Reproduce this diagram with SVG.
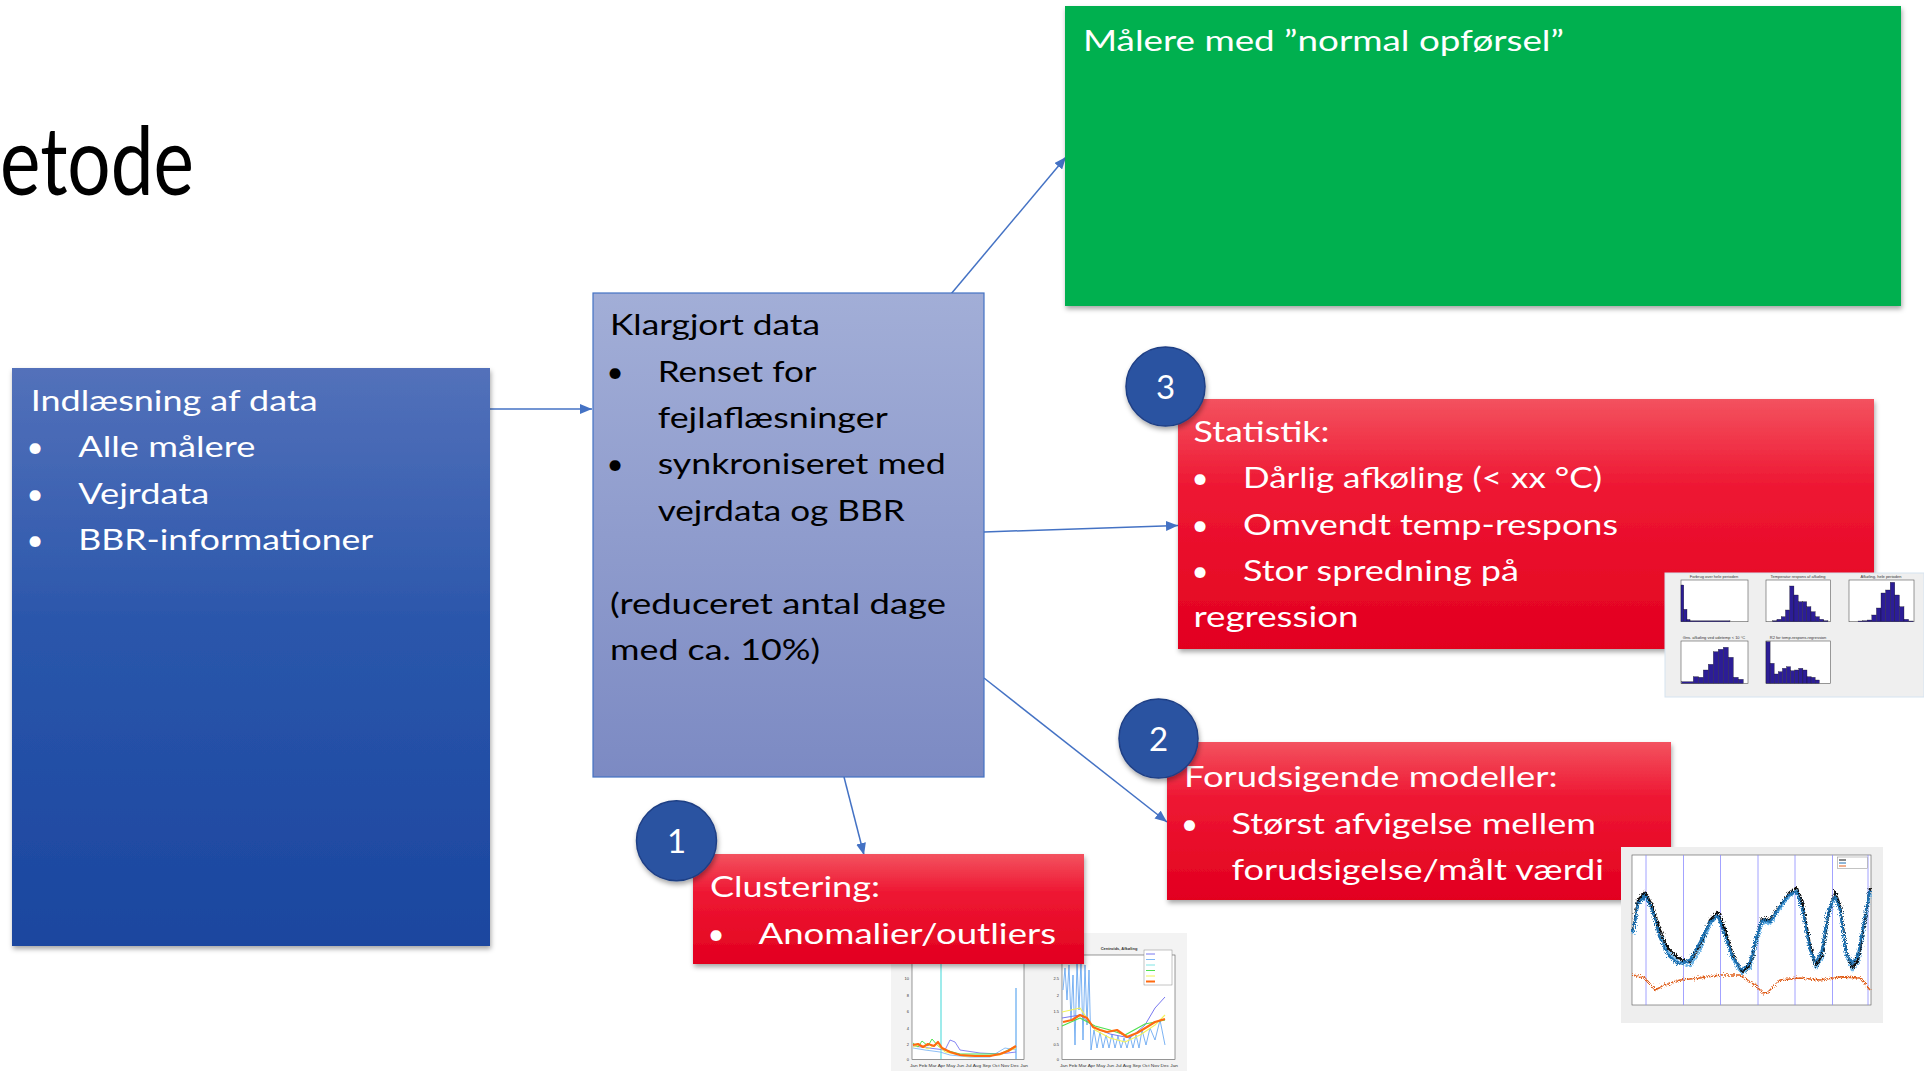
<svg xmlns="http://www.w3.org/2000/svg" width="1924" height="1071" viewBox="0 0 1924 1071">
<style>
.t{font-family:Lato,'Open Sans','Liberation Sans',sans-serif;font-size:29.5px}
.w{fill:#fff}.k{fill:#000}
.b{text-anchor:middle}
.num{font-family:Lato,'Open Sans','Liberation Sans',sans-serif;font-size:33px;fill:#fff;text-anchor:middle}
.conn{stroke:#4472C4;stroke-width:1.5;fill:none;marker-end:url(#arr)}
.circ{fill:#2C53A1;stroke:#1F3F85;stroke-width:1.5}
.ax{fill:#fff;stroke:#555;stroke-width:0.6}
.bar{fill:#2C1D96;stroke:#111;stroke-width:0.3}
.tiny{font-family:'Liberation Sans',sans-serif;font-size:4px;fill:#333}
.ln{fill:none;stroke-linejoin:round}
</style>
<defs>
<marker id="arr" markerUnits="userSpaceOnUse" markerWidth="13" markerHeight="10" refX="12" refY="5" orient="auto">
<path d="M0,0 L12,5 L0,10 z" fill="#4472C4"/>
</marker>
<linearGradient id="redg" x1="0" y1="0" x2="0" y2="1">
<stop offset="0" stop-color="#F3525F"/><stop offset="0.35" stop-color="#EE1733"/><stop offset="1" stop-color="#E2001F"/>
</linearGradient>
<linearGradient id="blueg" x1="0" y1="0" x2="0" y2="1">
<stop offset="0" stop-color="#5371BA"/><stop offset="0.45" stop-color="#2A56AB"/><stop offset="1" stop-color="#1B469F"/>
</linearGradient>
<linearGradient id="lavg" x1="0" y1="0" x2="0" y2="1">
<stop offset="0" stop-color="#A2AED7"/><stop offset="1" stop-color="#7C8AC3"/>
</linearGradient>
<filter id="sh" x="-5%" y="-5%" width="115%" height="125%">
<feDropShadow dx="1" dy="3" stdDeviation="2.5" flood-color="#000" flood-opacity="0.35"/>
</filter>
<filter id="jag" x="-5%" y="-30%" width="110%" height="160%">
<feTurbulence type="fractalNoise" baseFrequency="0.9" numOctaves="1" seed="3" result="n"/>
<feDisplacementMap in="SourceGraphic" in2="n" scale="7" xChannelSelector="R" yChannelSelector="G"/>
</filter>
</defs>
<rect width="1924" height="1071" fill="#fff"/>

<g id="title">
<text x="0" y="195" class="k" style="font-family:Lato,'Open Sans','Liberation Sans',sans-serif;font-size:95px;font-weight:400" textLength="194" lengthAdjust="spacingAndGlyphs">etode</text>
</g>

<g id="connectors">
<path class="conn" d="M490,409 L592,409"/>
<path class="conn" d="M951,294 L1066,157"/>
<path class="conn" d="M984,532 L1178,525.5"/>
<path class="conn" d="M984,678 L1167,822"/>
<path class="conn" d="M844,777 L864,855"/>
</g>

<g id="node-indlaesning">
<rect x="12" y="368" width="478" height="578" fill="url(#blueg)" filter="url(#sh)"/>
<text class="t w" x="30.7" y="410.7" textLength="287" lengthAdjust="spacingAndGlyphs">Indlæsning af data</text>
<text class="t w b" x="35" y="457.3">•</text>
<text class="t w" x="78.3" y="457.3" textLength="177" lengthAdjust="spacingAndGlyphs">Alle målere</text>
<text class="t w b" x="35" y="503.7">•</text>
<text class="t w" x="78.3" y="503.7" textLength="131" lengthAdjust="spacingAndGlyphs">Vejrdata</text>
<text class="t w b" x="35" y="550.1">•</text>
<text class="t w" x="78.3" y="550.1" textLength="295" lengthAdjust="spacingAndGlyphs">BBR-informationer</text>
</g>

<g id="node-klargjort">
<rect x="593" y="293" width="391" height="484" fill="url(#lavg)" stroke="#4472C4" stroke-width="1.2"/>
<text class="t k" x="610" y="335" textLength="210" lengthAdjust="spacingAndGlyphs">Klargjort data</text>
<text class="t k b" x="615" y="381.5">•</text>
<text class="t k" x="657.7" y="381.5" textLength="159" lengthAdjust="spacingAndGlyphs">Renset for</text>
<text class="t k" x="657.7" y="427.9" textLength="230" lengthAdjust="spacingAndGlyphs">fejlaflæsninger</text>
<text class="t k b" x="615" y="474.3">•</text>
<text class="t k" x="657.7" y="474.3" textLength="288" lengthAdjust="spacingAndGlyphs">synkroniseret med</text>
<text class="t k" x="657.7" y="520.7" textLength="247" lengthAdjust="spacingAndGlyphs">vejrdata og BBR</text>
<text class="t k" x="610" y="613.5" textLength="336" lengthAdjust="spacingAndGlyphs">(reduceret antal dage</text>
<text class="t k" x="610" y="659.9" textLength="210" lengthAdjust="spacingAndGlyphs">med ca. 10%)</text>
</g>

<g id="node-normal">
<rect x="1065" y="6" width="836" height="300" fill="#00B050" filter="url(#sh)"/>
<text class="t w" x="1083" y="50.5" textLength="481" lengthAdjust="spacingAndGlyphs">Målere med ”normal opførsel”</text>
</g>

<g id="node-statistik">
<rect x="1178" y="399" width="696" height="250" fill="url(#redg)" filter="url(#sh)"/>
<text class="t w" x="1193.5" y="441.7" textLength="136" lengthAdjust="spacingAndGlyphs">Statistik:</text>
<text class="t w b" x="1200" y="488.1">•</text>
<text class="t w" x="1243" y="488.1" textLength="359" lengthAdjust="spacingAndGlyphs">Dårlig afkøling (&lt; xx °C)</text>
<text class="t w b" x="1200" y="534.5">•</text>
<text class="t w" x="1243" y="534.5" textLength="375" lengthAdjust="spacingAndGlyphs">Omvendt temp-respons</text>
<text class="t w b" x="1200" y="580.9">•</text>
<text class="t w" x="1243" y="580.9" textLength="276" lengthAdjust="spacingAndGlyphs">Stor spredning på</text>
<text class="t w" x="1193.5" y="627.3" textLength="165" lengthAdjust="spacingAndGlyphs">regression</text>
</g>

<g id="node-forudsigende">
<rect x="1167" y="742" width="504" height="158" fill="url(#redg)" filter="url(#sh)"/>
<text class="t w" x="1184" y="787.3" textLength="373.5" lengthAdjust="spacingAndGlyphs">Forudsigende modeller:</text>
<text class="t w b" x="1189.5" y="833.7">•</text>
<text class="t w" x="1231.5" y="833.7" textLength="364.5" lengthAdjust="spacingAndGlyphs">Størst afvigelse mellem</text>
<text class="t w" x="1231.5" y="880.1" textLength="372.5" lengthAdjust="spacingAndGlyphs">forudsigelse/målt værdi</text>
</g>

<g id="fig-clustering">
<rect x="891" y="933" width="296" height="140" fill="#F3F3F3"/>
<rect class="ax" x="912" y="945" width="112" height="114.3"/>
<rect class="ax" x="1062" y="955" width="113" height="104.3"/>
<text class="tiny" x="1119" y="950" text-anchor="middle" font-weight="bold">Centroids, Afkøling</text>
<g class="tiny" text-anchor="end">
<text x="909" y="979.5">10</text><text x="909" y="996.5">8</text><text x="909" y="1013">6</text><text x="909" y="1029.5">4</text><text x="909" y="1045.5">2</text><text x="909" y="1060.5">0</text>
<text x="1059" y="979.5">2.5</text><text x="1059" y="996.5">2</text><text x="1059" y="1013">1.5</text><text x="1059" y="1029.5">1</text><text x="1059" y="1045.5">0.5</text><text x="1059" y="1060.5">0</text>
</g>
<text class="tiny" x="910" y="1066.5" textLength="118" lengthAdjust="spacingAndGlyphs">Jan Feb Mar Apr May Jun Jul Aug Sep Oct Nov Dec Jan</text>
<text class="tiny" x="1060" y="1066.5" textLength="118" lengthAdjust="spacingAndGlyphs">Jan Feb Mar Apr May Jun Jul Aug Sep Oct Nov Dec Jan</text>
<path class="ln" stroke="#7FE5E5" stroke-width="1.5" d="M941,1059 L941,945"/>
<path class="ln" stroke="#5FA8F0" stroke-width="1.2" d="M1016,1059 L1016,988"/>
<polyline class="ln" stroke="#7FB8F5" stroke-width="0.9" points="913,1048 925,1050 940,1052 950,1055 970,1057 990,1057 1005,1048 1016,1050"/>
<polyline class="ln" stroke="#7878F0" stroke-width="0.9" points="913,1046 945,1050 950,1040 955,1042 960,1050 980,1053 1000,1054 1016,1052"/>
<polyline class="ln" stroke="#4FE04F" stroke-width="1" points="913,1043 918,1047 922,1041 928,1046 932,1039 938,1046 945,1050 960,1054 1000,1054 1016,1046"/>
<polyline class="ln" stroke="#F2F25A" stroke-width="1" points="913,1047 920,1045 928,1049 936,1044 945,1052 965,1056 1000,1055 1016,1048"/>
<polyline class="ln" stroke="#FF6A10" stroke-width="2.2" points="913,1045 918,1044 923,1047 928,1044 934,1046 938,1042 942,1048 950,1052 960,1055 975,1056 990,1056 1000,1054 1008,1051 1016,1046"/>
<polyline class="ln" stroke="#5AA0F0" stroke-width="0.8" points="1063,990 1065,968 1067,1000 1069,965 1071,1020 1073,975 1075,1045 1077,962 1079,1010 1081,960 1083,1040 1085,965 1087,1025 1089,970 1091,1050 1094,1030 1097,1048 1100,1032 1103,1048 1106,1035 1109,1048 1112,1034 1115,1048 1118,1036 1121,1048 1124,1038 1127,1048 1130,1036 1133,1048 1136,1035 1139,1048 1142,1030 1146,1045 1150,1028 1155,1040 1160,1020 1165,1045"/>
<polyline class="ln" stroke="#7878F0" stroke-width="1" points="1062,1018 1080,1015 1095,1028 1110,1034 1130,1038 1145,1025 1155,1008 1165,997"/>
<polyline class="ln" stroke="#F2F25A" stroke-width="1.2" points="1062,1012 1080,1008 1095,1030 1110,1038 1125,1042 1140,1035 1155,1025 1165,1015"/>
<polyline class="ln" stroke="#4FE04F" stroke-width="1.2" points="1062,1026 1080,1018 1095,1026 1110,1030 1125,1035 1145,1024 1165,1020"/>
<polyline class="ln" stroke="#FF6A10" stroke-width="2.2" points="1063,1022 1072,1020 1080,1015 1087,1018 1093,1027 1100,1030 1107,1032 1117,1030 1127,1037 1137,1033 1147,1027 1155,1022 1165,1019"/>
<rect x="1144" y="950" width="28" height="35" fill="#fff" stroke="#888" stroke-width="0.5"/>
<g stroke-width="1">
<line x1="1146" y1="954" x2="1155" y2="954" stroke="#7878F0"/>
<line x1="1146" y1="959.5" x2="1155" y2="959.5" stroke="#7FB8F5"/>
<line x1="1146" y1="965" x2="1155" y2="965" stroke="#7FE5E5"/>
<line x1="1146" y1="970.5" x2="1155" y2="970.5" stroke="#4FE04F"/>
<line x1="1146" y1="976" x2="1155" y2="976" stroke="#F2F25A"/>
<line x1="1146" y1="981.5" x2="1155" y2="981.5" stroke="#FF6A10" stroke-width="2"/>
</g>
</g>

<g id="node-clustering">
<rect x="693" y="854" width="391" height="110" fill="url(#redg)" filter="url(#sh)"/>
<text class="t w" x="710" y="897.3" textLength="170" lengthAdjust="spacingAndGlyphs">Clustering:</text>
<text class="t w b" x="716" y="943.7">•</text>
<text class="t w" x="758.5" y="943.7" textLength="297.5" lengthAdjust="spacingAndGlyphs">Anomalier/outliers</text>
</g>

<g id="fig-statistik">
<rect x="1665" y="573" width="259" height="124" fill="#EFEFEF" stroke="#D5E3F0" stroke-width="1"/>
<rect class="ax" x="1681" y="580" width="67" height="41.7"/>
<rect class="ax" x="1766" y="580" width="64.7" height="41.7"/>
<rect class="ax" x="1849" y="580" width="65" height="41.7"/>
<rect class="ax" x="1681" y="641" width="67" height="42.3"/>
<rect class="ax" x="1766" y="641" width="64.7" height="42.3"/>
<g class="tiny" text-anchor="middle">
<text x="1714" y="578">Forbrug over hele perioden</text>
<text x="1798" y="578">Temperatur respons af afkøling</text>
<text x="1881" y="578">Afkøling, hele perioden</text>
<text x="1714" y="639">Gns. afkøling ved udetemp &lt; 10 °C</text>
<text x="1798" y="639">R2 for temp-respons-regression</text>
</g>
<g class="bar">
<rect x="1681" y="585" width="2.8" height="36.7"/>
<rect x="1683.8" y="609.3" width="3.2" height="12.4"/>
<rect x="1687" y="619.5" width="3" height="2.2"/>
<rect x="1690" y="620.8" width="40" height="0.9"/>
<rect x="1772.7" y="620.7" width="4.25" height="1"/>
<rect x="1776.95" y="619.3" width="4.25" height="2.4"/>
<rect x="1781.2" y="616.7" width="4.25" height="5"/>
<rect x="1785.45" y="610" width="4.25" height="11.7"/>
<rect x="1789.7" y="586" width="4.25" height="35.7"/>
<rect x="1793.95" y="595" width="4.25" height="26.7"/>
<rect x="1798.2" y="601.7" width="4.25" height="20"/>
<rect x="1802.45" y="601.7" width="4.25" height="20"/>
<rect x="1806.7" y="606.7" width="4.25" height="15"/>
<rect x="1810.95" y="611.7" width="4.25" height="10"/>
<rect x="1815.2" y="616.7" width="4.25" height="5"/>
<rect x="1819.45" y="619.3" width="4.25" height="2.4"/>
<rect x="1823.7" y="620.7" width="4.25" height="1"/>
<rect x="1858" y="621" width="4.6" height="0.7"/>
<rect x="1862.6" y="620.7" width="4.6" height="1"/>
<rect x="1867.2" y="620" width="4.6" height="1.7"/>
<rect x="1871.8" y="615" width="4.6" height="6.7"/>
<rect x="1876.4" y="608" width="4.6" height="13.7"/>
<rect x="1881" y="593" width="4.6" height="28.7"/>
<rect x="1885.6" y="590" width="4.6" height="31.7"/>
<rect x="1890.2" y="582.3" width="4.6" height="39.4"/>
<rect x="1894.8" y="595" width="4.6" height="26.7"/>
<rect x="1899.4" y="606.7" width="4.6" height="15"/>
<rect x="1904" y="619.3" width="4.6" height="2.4"/>
<rect x="1908.6" y="621" width="4.6" height="0.7"/>
<rect x="1681.7" y="681.7" width="11.6" height="1.6"/>
<rect x="1693.3" y="676.7" width="5" height="6.6"/>
<rect x="1698.3" y="677.3" width="5" height="6"/>
<rect x="1703.3" y="670" width="5" height="13.3"/>
<rect x="1708.3" y="664.3" width="5" height="19"/>
<rect x="1713.3" y="651.7" width="5" height="31.6"/>
<rect x="1718.3" y="649.3" width="5" height="34"/>
<rect x="1723.3" y="647.3" width="5" height="36"/>
<rect x="1728.3" y="657.3" width="5" height="26"/>
<rect x="1733.3" y="677.3" width="5" height="6"/>
<rect x="1738.3" y="679.3" width="5" height="4"/>
<rect x="1766" y="641.7" width="4.1" height="41.6"/>
<rect x="1770.1" y="663.3" width="4.1" height="20"/>
<rect x="1774.2" y="674" width="4.1" height="9.3"/>
<rect x="1778.3" y="671.7" width="4.1" height="11.6"/>
<rect x="1782.4" y="668.3" width="4.1" height="15"/>
<rect x="1786.5" y="666.7" width="4.1" height="16.6"/>
<rect x="1790.6" y="670.7" width="4.1" height="12.6"/>
<rect x="1794.7" y="670" width="4.1" height="13.3"/>
<rect x="1798.8" y="668.3" width="4.1" height="15"/>
<rect x="1802.9" y="670" width="4.1" height="13.3"/>
<rect x="1807" y="676.7" width="4.1" height="6.6"/>
<rect x="1811.1" y="677.3" width="4.1" height="6"/>
<rect x="1815.2" y="680" width="4.1" height="3.3"/>
</g>
</g>

<g id="fig-forudsigende">
<rect x="1621" y="847" width="262" height="176" fill="#EEEEEE"/>
<rect class="ax" x="1632" y="855" width="239" height="150"/>
<g stroke="#8C8CFF" stroke-width="0.8">
<line x1="1646" y1="855" x2="1646" y2="1005"/>
<line x1="1683.5" y1="855" x2="1683.5" y2="1005"/>
<line x1="1720.5" y1="855" x2="1720.5" y2="1005"/>
<line x1="1758" y1="855" x2="1758" y2="1005"/>
<line x1="1795" y1="855" x2="1795" y2="1005"/>
<line x1="1832.5" y1="855" x2="1832.5" y2="1005"/>
<line x1="1868" y1="855" x2="1868" y2="1005"/>
</g>
<g filter="url(#jag)">
<polyline class="ln" stroke="#6FB6E8" stroke-width="2.6" points="1633,934 1638,903 1645,896 1652,908 1660,935 1668,952 1678,962 1690,966 1700,950 1710,925 1718,915 1725,935 1733,960 1742,974 1750,968 1756,945 1762,922 1770,924 1780,908 1790,896 1797,890 1803,908 1810,948 1816,968 1822,958 1828,918 1835,896 1840,908 1846,954 1852,970 1858,963 1864,928 1870,892"/>
<polyline class="ln" stroke="#0F0F0F" stroke-width="2.2" points="1633,930 1638,900 1645,892 1652,905 1660,930 1668,948 1678,958 1690,962 1700,945 1710,920 1718,912 1725,930 1733,955 1742,972 1750,965 1756,940 1762,918 1770,920 1780,905 1790,892 1797,888 1803,905 1810,945 1816,966 1822,955 1828,915 1835,892 1840,905 1846,950 1852,968 1858,960 1864,925 1870,888"/>
<polyline class="ln" stroke="#1F6FB0" stroke-width="2.4" points="1633,932 1638,904 1645,895 1652,910 1660,938 1668,955 1678,964 1690,960 1700,942 1710,922 1718,916 1725,936 1733,958 1742,970 1750,962 1756,938 1762,920 1770,922 1780,906 1790,894 1797,892 1803,912 1810,950 1816,962 1822,950 1828,912 1835,895 1840,910 1846,952 1852,964 1858,955 1864,920 1870,890"/>
<polyline class="ln" stroke="#E0601E" stroke-width="1.5" points="1633,975 1645,978 1655,990 1665,985 1680,980 1700,978 1720,975 1740,975 1755,985 1765,995 1780,980 1800,978 1820,980 1840,977 1860,978 1870,990"/>
</g>
<rect x="1837.5" y="857" width="30" height="11.5" fill="#fff" stroke="#888" stroke-width="0.5"/>
<g stroke-width="1">
<line x1="1839" y1="860" x2="1846" y2="860" stroke="#111"/>
<line x1="1839" y1="863" x2="1846" y2="863" stroke="#1F6FB0"/>
<line x1="1839" y1="866" x2="1846" y2="866" stroke="#E0601E"/>
</g>
</g>

<g id="badge-3">
<circle class="circ" cx="1165.5" cy="386.5" r="39.5" filter="url(#sh)"/>
<text class="num" x="1165.5" y="398.5">3</text>
</g>
<g id="badge-2">
<circle class="circ" cx="1158.5" cy="738.5" r="39.5" filter="url(#sh)"/>
<text class="num" x="1158.5" y="751">2</text>
</g>
<g id="badge-1">
<circle class="circ" cx="676.5" cy="840.7" r="40" filter="url(#sh)"/>
<text class="num" x="676.5" y="852.7">1</text>
</g>
</svg>
